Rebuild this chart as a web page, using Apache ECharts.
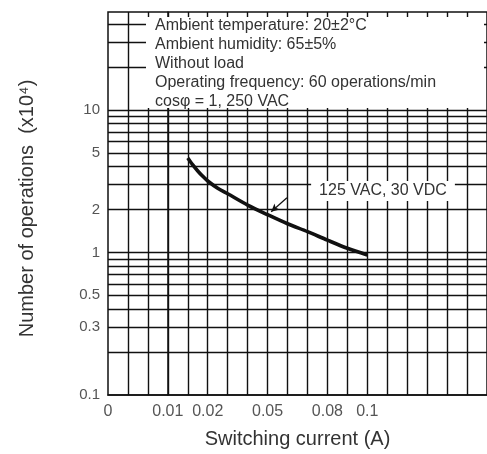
<!DOCTYPE html>
<html>
<head>
<meta charset="utf-8">
<script src="https://cdn.jsdelivr.net/npm/echarts@6/dist/echarts.min.js"></script>
<style>
html, body { margin: 0; padding: 0; background: #fff; }
#chart { width: 487px; height: 454px; }
</style>
</head>
<body>
<div id="chart"></div>
<script>
// curve: switching current (A) vs operations (x10^4)
var current = [0.01, 0.0125, 0.015, 0.0175, 0.02, 0.025, 0.03, 0.04, 0.05, 0.06, 0.07, 0.08, 0.09, 0.1];
var operations = [4.6, 4.11, 3.73, 3.42, 3.17, 2.82, 2.58, 2.15, 1.84, 1.59, 1.4, 1.22, 1.07, 0.96];

// grid lines and tick labels
var xGridAt = [-0.02, -0.01, 0, 0.01, 0.02, 0.03, 0.04, 0.05, 0.06, 0.07, 0.08, 0.09, 0.1, 0.11, 0.12, 0.13, 0.14, 0.15];
var xLabelAt = [-0.03, 0, 0.02, 0.05, 0.08, 0.1];
var xLabelText = ['0', '0.01', '0.02', '0.05', '0.08', '0.1'];
var yGridAt = [0.2, 0.3, 0.4, 0.5, 0.6, 0.7, 0.8, 0.9, 1, 2, 3, 4, 5, 6, 7, 8, 9, 10, 20, 30, 40];
var yLabelAt = [0.1, 0.3, 0.5, 1, 2, 5, 10];

var notes = [
    'Ambient temperature: 20±2°C',
    'Ambient humidity: 65±5%',
    'Without load',
    'Operating frequency: 60 operations/min',
    'cosφ = 1, 250 VAC'
];
var curveLabel = '125 VAC, 30 VDC';
var leaderFrom = [0.0518, 1.93];
var leaderTo = [0.0597, 2.42];

var font = '"Liberation Sans", Arial, Helvetica, sans-serif';
var gridLine = {color: '#111', width: 1.4};

var data = [];
for (var i = 0; i < current.length; i++) {
    data.push([current[i], operations[i]]);
}

var option = {
    animation: false,
    backgroundColor: '#fff',
    textStyle: {fontFamily: font},
    grid: {
        left: 108, right: -30, top: 12, bottom: 57,
        show: true, borderColor: '#111', borderWidth: 1.5
    },
    xAxis: {
        type: 'value',
        min: -0.03,
        max: 0.16,
        name: 'Switching current (A)',
        nameLocation: 'middle',
        nameGap: 34,
        nameTextStyle: {fontSize: 20, color: '#333', fontFamily: font},
        axisLine: {show: true, lineStyle: {color: '#111', width: 1.5}},
        axisTick: {show: false, customValues: xGridAt},
        splitLine: {show: true, lineStyle: gridLine},
        axisLabel: {
            customValues: xLabelAt,
            margin: 9,
            fontSize: 16,
            color: '#555',
            fontFamily: font,
            formatter: function (v) {
                for (var k = 0; k < xLabelAt.length; k++) {
                    if (Math.abs(xLabelAt[k] - v) < 1e-6) return xLabelText[k];
                }
                return '';
            }
        }
    },
    yAxis: {
        type: 'log',
        logBase: 10,
        min: 0.1,
        max: 48.6,
        name: 'Number of operations  (x10⁴)',
        nameLocation: 'middle',
        nameGap: 71,
        nameTextStyle: {fontSize: 20, color: '#333', fontFamily: font, padding: [0, 0, 0, -10]},
        axisLine: {show: true, lineStyle: {color: '#111', width: 1.5}},
        axisTick: {show: false, customValues: yGridAt},
        splitLine: {show: true, lineStyle: gridLine},
        axisLabel: {
            customValues: yLabelAt,
            margin: 8,
            fontSize: 15,
            color: '#555',
            fontFamily: font,
            formatter: function (v) { return String(v); }
        }
    },
    series: [
        {
            type: 'line',
            data: data,
            smooth: 0.3,
            symbol: 'none',
            lineStyle: {color: '#111', width: 3.6},
            z: 3,
            markLine: {
                silent: true,
                symbol: ['arrow', 'none'],
                symbolSize: [6, 8],
                label: {show: false},
                lineStyle: {color: '#111', width: 1.2, type: 'solid'},
                data: [[{coord: leaderFrom}, {coord: leaderTo}]]
            }
        }
    ],
    graphic: {
        elements: [
            {
                type: 'rect', z: 10,
                shape: {x: 146, y: 17, width: 338, height: 91},
                style: {fill: '#fff'}
            },
            {
                type: 'text', z: 11,
                x: 155, y: 16,
                style: {
                    text: notes.join('\n'),
                    font: '16px ' + font,
                    fill: '#333',
                    lineHeight: 19,
                    verticalAlign: 'top'
                }
            },
            {
                type: 'text', z: 11,
                x: 383, y: 191,
                style: {
                    text: curveLabel,
                    font: '16px ' + font,
                    fill: '#333',
                    align: 'center',
                    verticalAlign: 'middle',
                    backgroundColor: '#fff',
                    padding: [2, 8]
                }
            }
        ]
    }
};

var chart = echarts.init(document.getElementById('chart'));
chart.setOption(option);
</script>
</body>
</html>
